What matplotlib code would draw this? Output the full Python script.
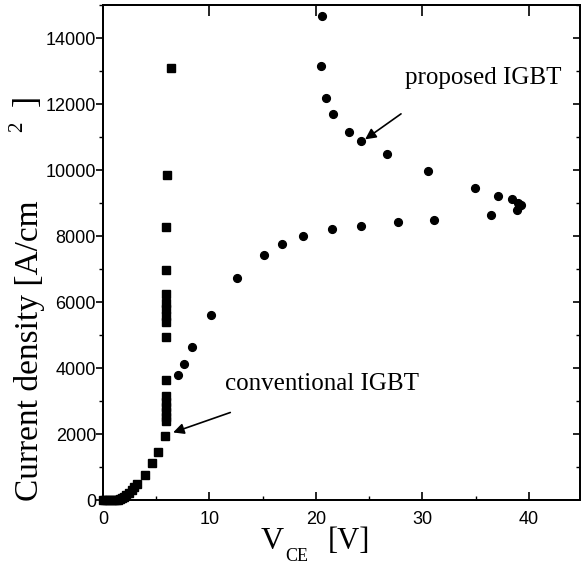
import numpy as np
import matplotlib
matplotlib.use('Agg')
import matplotlib.pyplot as plt
from matplotlib.ticker import MultipleLocator

# conventional IGBT (squares)
conv_v = [0.0, 0.2, 0.4, 0.6, 0.8, 1.0, 1.2, 1.4, 1.6, 1.8, 2.0, 2.2, 2.4, 2.7, 2.9,
          3.2, 3.9, 4.6, 5.2, 5.8, 5.9, 5.9, 5.9, 5.9, 5.9, 5.95, 5.9, 5.9, 5.9, 5.9,
          5.9, 5.9, 5.9, 5.95, 5.95, 6.05, 6.4]
conv_j = [0, 0, 0, 0, 0, 0, 5, 15, 30, 60, 100, 150, 210, 300, 390,
          490, 760, 1120, 1460, 1950, 2380, 2530, 2680, 2830, 2980, 3150, 3640, 4940, 5380, 5580,
          5780, 5980, 6240, 6970, 8280, 9850, 13090]

# proposed IGBT (circles), lower branch then snap-back branch
prop_v = [7.0, 7.56, 8.4, 10.1, 12.6, 15.1, 16.8, 18.8, 21.5, 24.2, 27.7, 31.1, 36.4, 38.9, 39.1, 39.3,
          39.0, 38.4, 37.1, 34.9, 30.5, 26.7, 24.2, 23.1, 21.6, 20.9, 20.5, 20.6]
prop_j = [3790, 4120, 4640, 5610, 6730, 7420, 7760, 8000, 8210, 8300, 8420, 8480, 8640, 8790, 8900, 8950,
          9000, 9120, 9210, 9450, 9970, 10490, 10880, 11150, 11700, 12180, 13150, 14670]

serif = 'Liberation Serif'
sans = 'Liberation Sans'

fig = plt.figure(figsize=(5.83, 5.75), dpi=100)
ax = fig.add_axes([0.1767, 0.1304, 0.8182, 0.8609])

ax.plot(conv_v, conv_j, 's', color='black', markersize=5.8, clip_on=False, zorder=3)
ax.plot(prop_v, prop_j, 'o', color='black', markersize=5.6, clip_on=False, zorder=3)

ax.set_xlim(0, 44.8)
ax.set_ylim(0, 15000)

ax.xaxis.set_major_locator(MultipleLocator(10))
ax.xaxis.set_minor_locator(MultipleLocator(5))
ax.yaxis.set_major_locator(MultipleLocator(2000))
ax.yaxis.set_minor_locator(MultipleLocator(1000))

ax.tick_params(axis='y', which='major', direction='out', length=5, width=1.2, pad=0,
               labelsize=13, left=True, right=False)
ax.tick_params(axis='y', which='minor', direction='out', length=3, width=1.0, left=True, right=False)
ax.tick_params(axis='x', which='major', direction='in', length=6, width=1.2, pad=8,
               labelsize=13, bottom=True, top=False)
ax.tick_params(axis='x', which='minor', direction='in', length=3, width=1.0, bottom=True, top=False)
for lab in ax.get_xticklabels() + ax.get_yticklabels():
    lab.set_fontfamily(sans)

# right side ticks (inward) and top ticks (inward)
axr = ax.twinx()
axr.set_ylim(ax.get_ylim())
axr.yaxis.set_major_locator(MultipleLocator(2000))
axr.yaxis.set_minor_locator(MultipleLocator(1000))
axr.tick_params(axis='y', which='major', direction='in', length=5, width=1.2, labelright=False)
axr.tick_params(axis='y', which='minor', direction='in', length=3, width=1.0)
axt = ax.twiny()
axt.set_xlim(ax.get_xlim())
axt.xaxis.set_major_locator(MultipleLocator(10))
axt.tick_params(axis='x', which='major', direction='in', length=8, width=1.2, labeltop=False)
axt.xaxis.set_minor_locator(plt.NullLocator())

for a in (ax, axr, axt):
    for s in a.spines.values():
        s.set_linewidth(1.2)

# axis labels
fig.text(0.447, 0.045, r'V', fontsize=23, family=serif, ha='left', va='baseline')
fig.text(0.490, 0.025, 'CE', fontsize=13, family=serif, ha='left', va='baseline')
fig.text(0.563, 0.045, '[V]', fontsize=22, family=serif, ha='left', va='baseline')

fig.text(0.05, 0.39, 'Current density [A/cm', fontsize=24, family=serif,
         rotation=90, ha='center', va='center')
fig.text(0.03, 0.78, '2', fontsize=15, family=serif, rotation=90, ha='center', va='center')
fig.text(0.045, 0.825, ']', fontsize=24, family=serif, rotation=90, ha='center', va='center')

# annotations
ax.annotate('', xy=(24.4, 10880), xytext=(28.2, 11750),
            arrowprops=dict(arrowstyle='-|>', color='black', lw=1.2, mutation_scale=16))
ax.text(28.4, 12800, 'proposed IGBT', fontsize=18, family=serif, ha='left', va='center')
ax.annotate('', xy=(6.34, 2020), xytext=(12.2, 2680),
            arrowprops=dict(arrowstyle='-|>', color='black', lw=1.2, mutation_scale=16))
ax.text(11.5, 3530, 'conventional IGBT', fontsize=18, family=serif, ha='left', va='center')

fig.savefig('out.png', dpi=100)
